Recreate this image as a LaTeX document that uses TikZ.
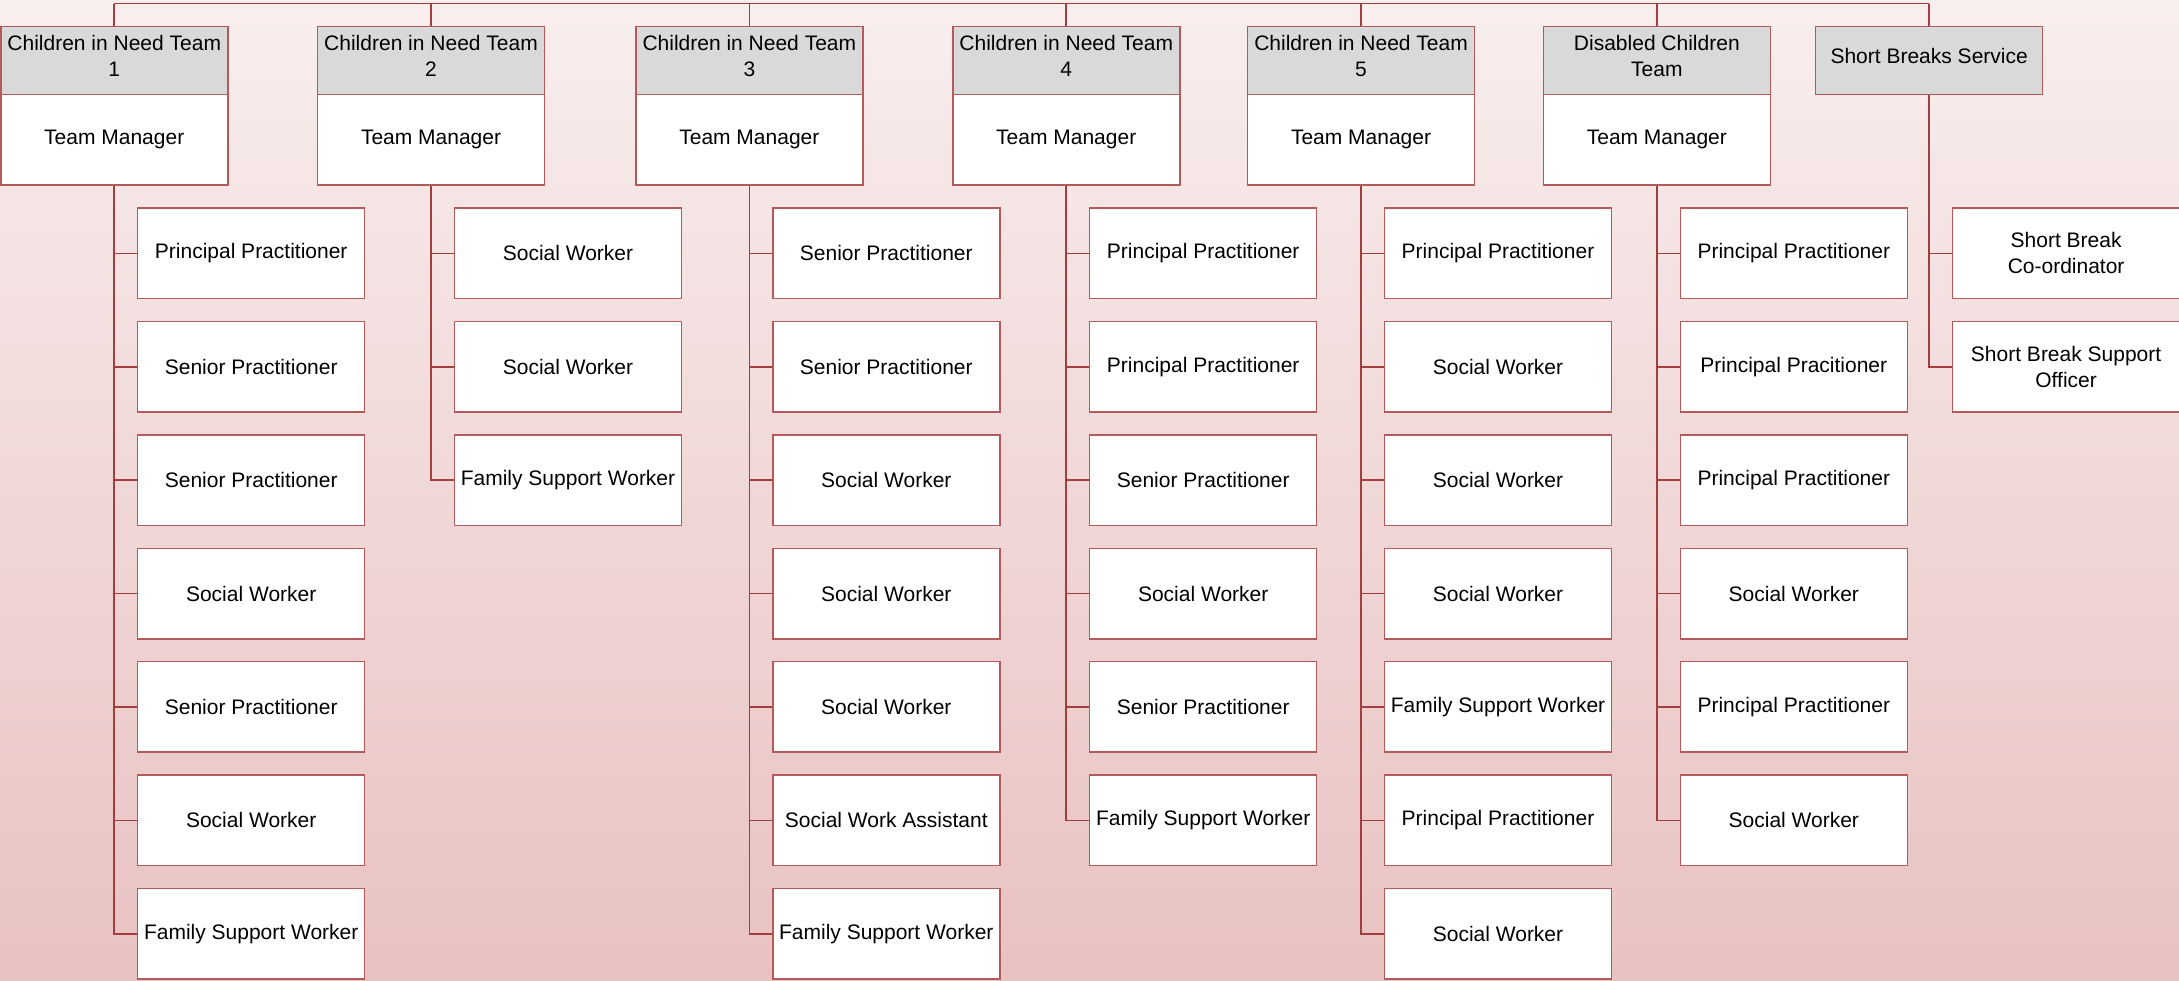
\documentclass[tikz,border=0pt]{standalone}
\usepackage{fontspec}
\setmainfont{Liberation Sans}
\definecolor{bgtop}{HTML}{F9EEEE}
\definecolor{bgbot}{HTML}{E8C2C1}
\definecolor{linec}{HTML}{A23E3E}
\definecolor{boxc}{HTML}{B55A5A}
\definecolor{headc}{HTML}{D9D9D9}
\newcommand\orgkids[3]{% #1 name, #2 parent node, #3 list
  \foreach \k [count=\j] in {#3}{
    \node[box] (c#1-\j) at ([xshift=22.7pt]#2.south |- 0,{207.3+113.4*(\j-1)}) {\k};
    \draw[conn] (#2.south) |- (c#1-\j.west);
  }}
\newcommand\orgteam[4]{% #1 name, #2 left x, #3 title, #4 list
  \node[head, label={[headtext]center:{#3}}] (h#1) at (#2,25.7) {};
  \node[box] (m#1) at (#2,93.7) {Team Manager};
  \draw[conn] (h#1.north) -- (h#1.north |- topline);
  \orgkids{#1}{m#1}{#4}}
\begin{document}
\begin{tikzpicture}[x=1pt,y=-1pt,
  box/.style={draw=boxc, line width=1.5pt, fill=white, minimum width=227pt,
    minimum height=90.5pt, inner sep=0pt, anchor=north west, align=center,
    font=\fontsize{21}{26}\selectfont},
  head/.style={box, fill=headc, minimum height=68pt},
  headtext/.style={align=center, inner sep=0pt, yshift=4.5pt,
    font=\fontsize{21}{26}\selectfont},
  conn/.style={draw=linec, line width=1.6pt}]
\shade[top color=bgtop, bottom color=bgbot] (0,0) rectangle (2179,980);
\useasboundingbox (0,0) rectangle (2179,980);
\coordinate (topline) at (0,3.5);
\orgteam{1}{0}{Children in Need Team\\1}{Principal Practitioner,Senior Practitioner,Senior Practitioner,Social Worker,Senior Practitioner,Social Worker,Family Support Worker}
\orgteam{2}{316.8}{Children in Need Team\\2}{Social Worker,Social Worker,Family Support Worker}
\orgteam{3}{635.1}{Children in Need Team\\3}{Senior Practitioner,Senior Practitioner,Social Worker,Social Worker,Social Worker,Social Work Assistant,Family Support Worker}
\orgteam{4}{952.0}{Children in Need Team\\4}{Principal Practitioner,Principal Practitioner,Senior Practitioner,Social Worker,Senior Practitioner,Family Support Worker}
\orgteam{5}{1246.8}{Children in Need Team\\5}{Principal Practitioner,Social Worker,Social Worker,Social Worker,Family Support Worker,Principal Practitioner,Social Worker}
\orgteam{6}{1542.6}{Disabled Children\\Team}{Principal Practitioner,Principal Pracitioner,Principal Practitioner,Social Worker,Principal Practitioner,Social Worker}
\node[head, label={[headtext]center:Short Breaks Service}] (h7) at (1814.9,25.7) {};
\draw[conn] (h7.north) -- (h7.north |- topline);
\orgkids{7}{h7}{{Short Break\\Co-ordinator},{Short Break Support\\Officer}}
\draw[conn] (h1.north |- topline) -- (h7.north |- topline);
\end{tikzpicture}
\end{document}
